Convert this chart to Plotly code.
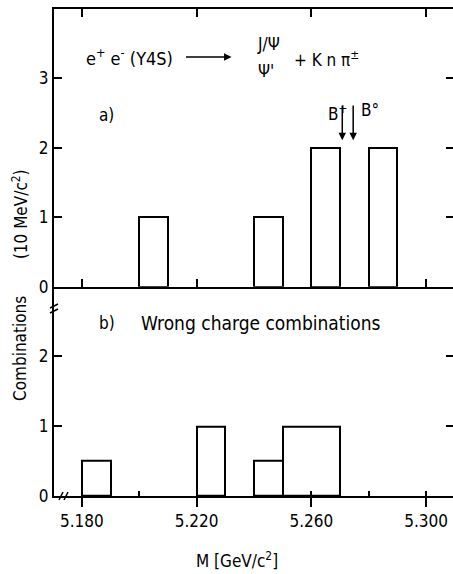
import plotly.graph_objects as go

# ---- data ----
top_lo = [5.200, 5.240, 5.260, 5.280]
top_hi = [5.210, 5.250, 5.270, 5.290]
top_counts = [1, 1, 2, 2]

bot_lo = [5.180, 5.220, 5.240, 5.250]
bot_hi = [5.190, 5.230, 5.250, 5.270]
bot_counts = [0.5, 1, 0.5, 1]

x_ticks = [5.180, 5.220, 5.260, 5.300]
x_tick_labels = ["5.180", "5.220", "5.260", "5.300"]
top_yticks = [0, 1, 2, 3]
bot_yticks = [0, 1, 2]

m_bplus = 5.2708
m_b0 = 5.2746

FONT = "DejaVu Sans Condensed, Liberation Sans Narrow, sans-serif"
LW = 2

fig = go.Figure()

def bars(lo, hi, h, xa, ya):
    return go.Bar(
        x=[(a + b) / 2 for a, b in zip(lo, hi)],
        y=h,
        width=[b - a for a, b in zip(lo, hi)],
        marker=dict(color="rgba(0,0,0,0)", line=dict(color="black", width=LW)),
        xaxis=xa, yaxis=ya, showlegend=False, hoverinfo="skip",
    )

fig.add_trace(bars(bot_lo, bot_hi, bot_counts, "x", "y"))
fig.add_trace(bars(top_lo, top_hi, top_counts, "x2", "y2"))
# dummy traces for right-side tick axes
fig.add_trace(go.Scatter(x=[None], y=[None], xaxis="x", yaxis="y3", showlegend=False))
fig.add_trace(go.Scatter(x=[None], y=[None], xaxis="x2", yaxis="y4", showlegend=False))

split = 0.4298
xr = [5.1703, 5.3094]
tickfont = dict(family=FONT, size=17, color="black")

fig.update_layout(
    width=453, height=574,
    margin=dict(l=54, r=0, t=9, b=78, autoexpand=False),
    paper_bgcolor="white", plot_bgcolor="white",
    bargap=0, barmode="overlay",
    font=dict(family=FONT, size=17, color="black"),
    xaxis=dict(
        domain=[0, 1], range=xr, anchor="y", automargin=False,
        tickmode="array", tickvals=x_ticks, ticktext=x_tick_labels,
        ticks="outside", ticklen=9, tickwidth=LW, tickcolor="black",
        showline=True, linecolor="black", linewidth=LW,
        showgrid=False, zeroline=False, tickfont=tickfont,
        minor=dict(ticks="inside", tick0=5.18, dtick=0.02, ticklen=5, tickwidth=1.5,
                   tickcolor="black", showgrid=False),
    ),
    xaxis2=dict(
        domain=[0, 1], range=xr, anchor="y2", matches="x", automargin=False,
        tickmode="array", tickvals=x_ticks, showticklabels=False,
        ticks="inside", ticklen=8, tickwidth=LW, tickcolor="black",
        showline=True, linecolor="black", linewidth=LW, mirror="ticks",
        showgrid=False, zeroline=False,
    ),
    yaxis=dict(
        domain=[0, split], range=[0, 3], anchor="x", automargin=False,
        tickmode="array", tickvals=bot_yticks,
        ticks="inside", ticklen=8, tickwidth=LW, tickcolor="black",
        showline=True, linecolor="black", linewidth=LW,
        showgrid=False, zeroline=False, tickfont=tickfont,
    ),
    yaxis2=dict(
        domain=[split, 1], range=[0, 4], anchor="x2", automargin=False,
        tickmode="array", tickvals=top_yticks,
        ticks="inside", ticklen=8, tickwidth=LW, tickcolor="black",
        showline=True, linecolor="black", linewidth=LW,
        showgrid=False, zeroline=False, tickfont=tickfont,
    ),
    yaxis3=dict(
        domain=[0, split], range=[0, 3], overlaying="y", side="right", anchor="x",
        automargin=False,
        tickmode="array", tickvals=[1, 2], showticklabels=False,
        ticks="inside", ticklen=7, tickwidth=LW, tickcolor="black",
        showline=False, showgrid=False, zeroline=False,
    ),
    yaxis4=dict(
        domain=[split, 1], range=[0, 4], overlaying="y2", side="right", anchor="x2",
        automargin=False,
        tickmode="array", tickvals=[1, 2, 3], showticklabels=False,
        ticks="inside", ticklen=7, tickwidth=LW, tickcolor="black",
        showline=False, showgrid=False, zeroline=False,
    ),
)

ann = []
def txt(x, y, s, xa="x2", ya="y2", xanchor="center", size=17, **kw):
    ann.append(dict(x=x, y=y, xref=xa, yref=ya, text=s, showarrow=False,
                    xanchor=xanchor, yanchor="middle",
                    font=dict(family=FONT, size=size, color="black"), **kw))

# reaction label
txt(5.1808, 3.31, "e<sup>+</sup> e<sup>-</sup> (Υ4S)", xanchor="left", size=18)
ann.append(dict(x=5.2322, y=3.31, ax=5.2158, ay=3.31, xref="x2", yref="y2",
                axref="x2", ayref="y2", text="", showarrow=True,
                arrowhead=2, arrowsize=1, arrowwidth=1.5, arrowcolor="black"))
txt(5.2450, 3.49, "J/Ψ")
txt(5.2443, 3.10, "Ψ'")
txt(5.2534, 3.28, "+ K n π<sup>±</sup>", xanchor="left")
txt(5.1887, 2.47, "a)")
txt(5.2690, 2.50, "B<sup>+</sup>")
txt(5.2805, 2.54, "B°")
for m in (m_bplus, m_b0):
    ann.append(dict(x=m, y=2.11, ax=m, ay=2.63, xref="x2", yref="y2",
                    axref="x2", ayref="y2", text="", showarrow=True,
                    arrowhead=2, arrowsize=1, arrowwidth=1.5, arrowcolor="black"))
# panel b
txt(5.1887, 2.48, "b)", xa="x", ya="y")
txt(5.2423, 2.48, "Wrong charge combinations", xa="x", ya="y", size=19)

# axis titles
ann.append(dict(x=-0.085, y=0.579, xref="paper", yref="paper", text="(10 MeV/c<sup>2</sup>)",
                showarrow=False, textangle=-90, xanchor="center", yanchor="middle",
                font=dict(family=FONT, size=17, color="black")))
ann.append(dict(x=-0.085, y=0.302, xref="paper", yref="paper", text="Combinations",
                showarrow=False, textangle=-90, xanchor="center", yanchor="middle",
                font=dict(family=FONT, size=17, color="black")))
ann.append(dict(x=0.4586, y=-0.131, xref="paper", yref="paper", text="M [GeV/c<sup>2</sup>]",
                showarrow=False, xanchor="center", yanchor="middle",
                font=dict(family=FONT, size=17, color="black")))
fig.update_layout(annotations=ann)

# axis break marks
shapes = []
for k in (0, 5):
    shapes.append(dict(type="line", xref="paper", yref="paper",
                       x0=-4 / 399, x1=4 / 399,
                       y0=(496 - 313 + k) / 487, y1=(496 - 309 + k) / 487,
                       line=dict(color="black", width=1.5)))
    shapes.append(dict(type="line", xref="paper", yref="paper",
                       x0=(5 + k) / 399, x1=(9 + k) / 399,
                       y0=-4 / 487, y1=4 / 487,
                       line=dict(color="black", width=1.5)))
fig.update_layout(shapes=shapes)

fig.write_html("out.html", config={"displayModeBar": False},
               post_script="document.body.style.margin='0';document.body.style.overflow='hidden';")
